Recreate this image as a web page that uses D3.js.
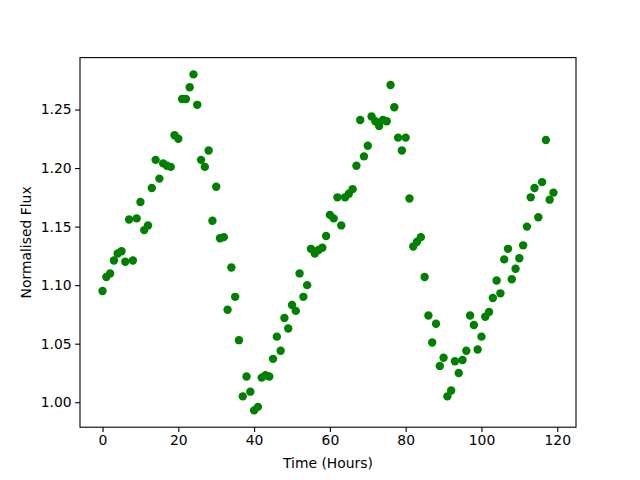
<!DOCTYPE html>
<meta charset="utf-8">
<style>
body { margin: 0; background: #fff; }
svg text { font-family: "DejaVu Sans", sans-serif; fill: #000; }
.axis path, .axis line { stroke: #000; stroke-width: 1.1px; }
</style>
<body>
<script src="https://d3js.org/d3.v7.min.js"></script>
<script>

// hours since start, one reading per hour
var hours = d3.range(0, 120);

var flux = [
  1.095, 1.107, 1.110, 1.121, 1.127, 1.129, 1.120, 1.156, 1.121, 1.157,
  1.171, 1.147, 1.151, 1.183, 1.207, 1.191, 1.204, 1.202, 1.201, 1.228,
  1.225, 1.259, 1.259, 1.269, 1.280, 1.254, 1.207, 1.201, 1.215, 1.155,
  1.184, 1.140, 1.141, 1.079, 1.115, 1.090, 1.053, 1.005, 1.022, 1.009,
  0.993, 0.996, 1.021, 1.023, 1.022, 1.037, 1.056, 1.044, 1.072, 1.063,
  1.083, 1.078, 1.110, 1.090, 1.100, 1.131, 1.127, 1.130, 1.132, 1.142,
  1.160, 1.157, 1.175, 1.151, 1.175, 1.178, 1.182, 1.202, 1.241, 1.210,
  1.219, 1.244, 1.240, 1.236, 1.241, 1.240, 1.271, 1.252, 1.226, 1.215,
  1.226, 1.174, 1.133, 1.137, 1.141, 1.107, 1.074, 1.051, 1.067, 1.031,
  1.038, 1.005, 1.010, 1.035, 1.025, 1.036, 1.044, 1.074, 1.066, 1.045,
  1.056, 1.073, 1.077, 1.089, 1.104, 1.093, 1.122, 1.131, 1.105, 1.114,
  1.123, 1.134, 1.150, 1.175, 1.183, 1.158, 1.188, 1.224, 1.173, 1.179
];

var xTicks = [0, 20, 40, 60, 80, 100, 120];
var yTicks = [1.00, 1.05, 1.10, 1.15, 1.20, 1.25];

var width = 640, height = 480;
var plotLeft = 80, plotRight = 576, plotTop = 57.6, plotBottom = 427.2;

var svg = d3.select("body").append("svg")
    .attr("width", width)
    .attr("height", height);

// matplotlib style 5% margins
function padded(ext) {
  var m = (ext[1] - ext[0]) * 0.05;
  return [ext[0] - m, ext[1] + m];
}

var x = d3.scaleLinear().domain(padded(d3.extent(hours))).range([plotLeft, plotRight]);
var y = d3.scaleLinear().domain(padded(d3.extent(flux))).range([plotBottom, plotTop]);

var data = hours.map(function(h, i) { return {t: h, f: flux[i]}; });

svg.append("g")
  .selectAll("circle")
  .data(data)
  .enter().append("circle")
    .attr("cx", function(d) { return x(d.t); })
    .attr("cy", function(d) { return y(d.f); })
    .attr("r", 4.2)
    .attr("fill", "#008000");

var xAxis = svg.append("g")
    .attr("class", "axis")
    .attr("transform", "translate(0," + plotBottom + ")")
    .call(d3.axisBottom(x).tickValues(xTicks).tickSize(4.9).tickPadding(3.5).tickSizeOuter(0));
xAxis.select(".domain").remove();
xAxis.selectAll("text").style("font-size", "13.9px");

var yAxis = svg.append("g")
    .attr("class", "axis")
    .attr("transform", "translate(" + plotLeft + ",0)")
    .call(d3.axisLeft(y).tickValues(yTicks).tickFormat(d3.format(".2f")).tickSize(4.9).tickPadding(3.5).tickSizeOuter(0));
yAxis.select(".domain").remove();
yAxis.selectAll("text").style("font-size", "13.9px");

// frame
svg.append("rect")
    .attr("x", plotLeft)
    .attr("y", plotTop)
    .attr("width", plotRight - plotLeft)
    .attr("height", plotBottom - plotTop)
    .attr("fill", "none")
    .attr("stroke", "#000")
    .attr("stroke-width", 1.1);

svg.append("text")
    .attr("x", (plotLeft + plotRight) / 2)
    .attr("y", 468)
    .attr("text-anchor", "middle")
    .style("font-size", "13.9px")
    .text("Time (Hours)");

svg.append("text")
    .attr("transform", "translate(31," + (plotTop + plotBottom) / 2 + ") rotate(-90)")
    .attr("text-anchor", "middle")
    .style("font-size", "13.9px")
    .text("Normalised Flux");

</script>
</body>
